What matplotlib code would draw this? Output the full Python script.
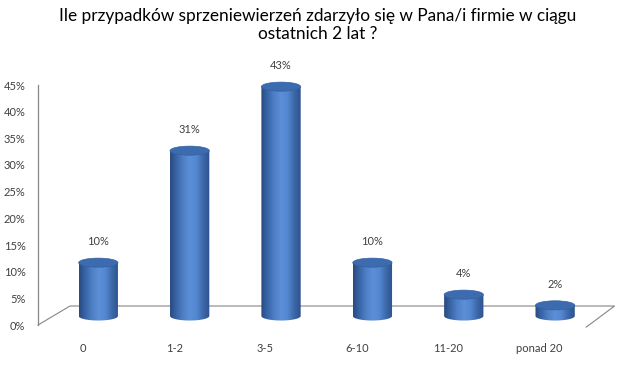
import numpy as np
import matplotlib
matplotlib.use("Agg")
import matplotlib.pyplot as plt
from matplotlib.patches import Ellipse, PathPatch
from matplotlib.path import Path
from matplotlib.colors import LinearSegmentedColormap

plt.rcParams["font.family"] = ["Lato", "DejaVu Sans"]

TITLE = "Ile przypadków sprzeniewierzeń zdarzyło się w Pana/i firmie w ciągu\nostatnich 2 lat ?"
categories = ["0", "1-2", "3-5", "6-10", "11-20", "ponad 20"]
values = [10, 31, 43, 10, 4, 2]
yticks = [0, 5, 10, 15, 20, 25, 30, 35, 40, 45]

GRAY = "#868686"
TEXT = "#404040"
cyl_cmap = LinearSegmentedColormap.from_list(
    "cyl", ["#284b80", "#3a66a8", "#4f80c6", "#5b8fd8", "#5387cf", "#3d68a8", "#2c5190"])

fig = plt.figure(figsize=(6.35, 3.74), dpi=100)
ax = fig.add_axes([38 / 635, 49 / 374, 582 / 635, 240 / 374])
ax.set_xlim(-0.66, 5.71)
ax.set_ylim(0, 45)

base = 1.69      # centre of bottom ellipse
bw = 0.43        # cylinder width
eh = 1.7         # ellipse height
grad = np.linspace(0, 1, 256).reshape(1, -1)

for i, v in enumerate(values):
    top = base + v
    x0, x1 = i - bw / 2, i + bw / 2
    # body outline: lower half ellipse + rectangle
    t = np.linspace(np.pi, 2 * np.pi, 60)
    xs = i + bw / 2 * np.cos(t)
    ys = base + eh / 2 * np.sin(t)
    verts = list(zip(xs, ys)) + [(x1, top), (x0, top), (xs[0], ys[0])]
    codes = [Path.MOVETO] + [Path.LINETO] * (len(verts) - 2) + [Path.CLOSEPOLY]
    body = PathPatch(Path(verts, codes), facecolor="none", edgecolor="none")
    ax.add_patch(body)
    im = ax.imshow(grad, cmap=cyl_cmap, aspect="auto", zorder=3,
                   extent=[x0, x1, base - eh / 2, top], interpolation="bilinear")
    im.set_clip_path(body)
    ax.add_patch(Ellipse((i, top), bw, eh, facecolor="#3d6bb0",
                         edgecolor="#35609e", lw=0.5, zorder=4, clip_on=False))
    ax.annotate(f"{v}%", (i, top + eh / 2), xytext=(0, 8), textcoords="offset points",
                ha="center", va="bottom", fontsize=8, color=TEXT,
                annotation_clip=False)

# floor (3D wall base)
ax.plot([-0.66, -0.31, 5.65, 5.34], [0, 3.56, 3.56, -0.4], color=GRAY, lw=0.8,
        zorder=2, clip_on=False)

ax.set_yticks(yticks)
ax.set_yticklabels([f"{y}%" for y in yticks], fontsize=8, color=TEXT)
ax.set_xticks([i - 0.17 for i in range(len(categories))])
ax.set_xticklabels(categories, fontsize=8, color=TEXT)
ax.tick_params(axis="y", length=0, pad=9)
ax.tick_params(axis="x", length=0, pad=13)
for s in ["top", "right", "bottom"]:
    ax.spines[s].set_visible(False)
ax.spines["left"].set_color(GRAY)
ax.spines["left"].set_linewidth(0.9)

fig.text(0.5, 0.979, TITLE, ha="center", va="top", fontsize=12.4, color="#000000",
         linespacing=1.2)

fig.savefig("out.png", dpi=100)
